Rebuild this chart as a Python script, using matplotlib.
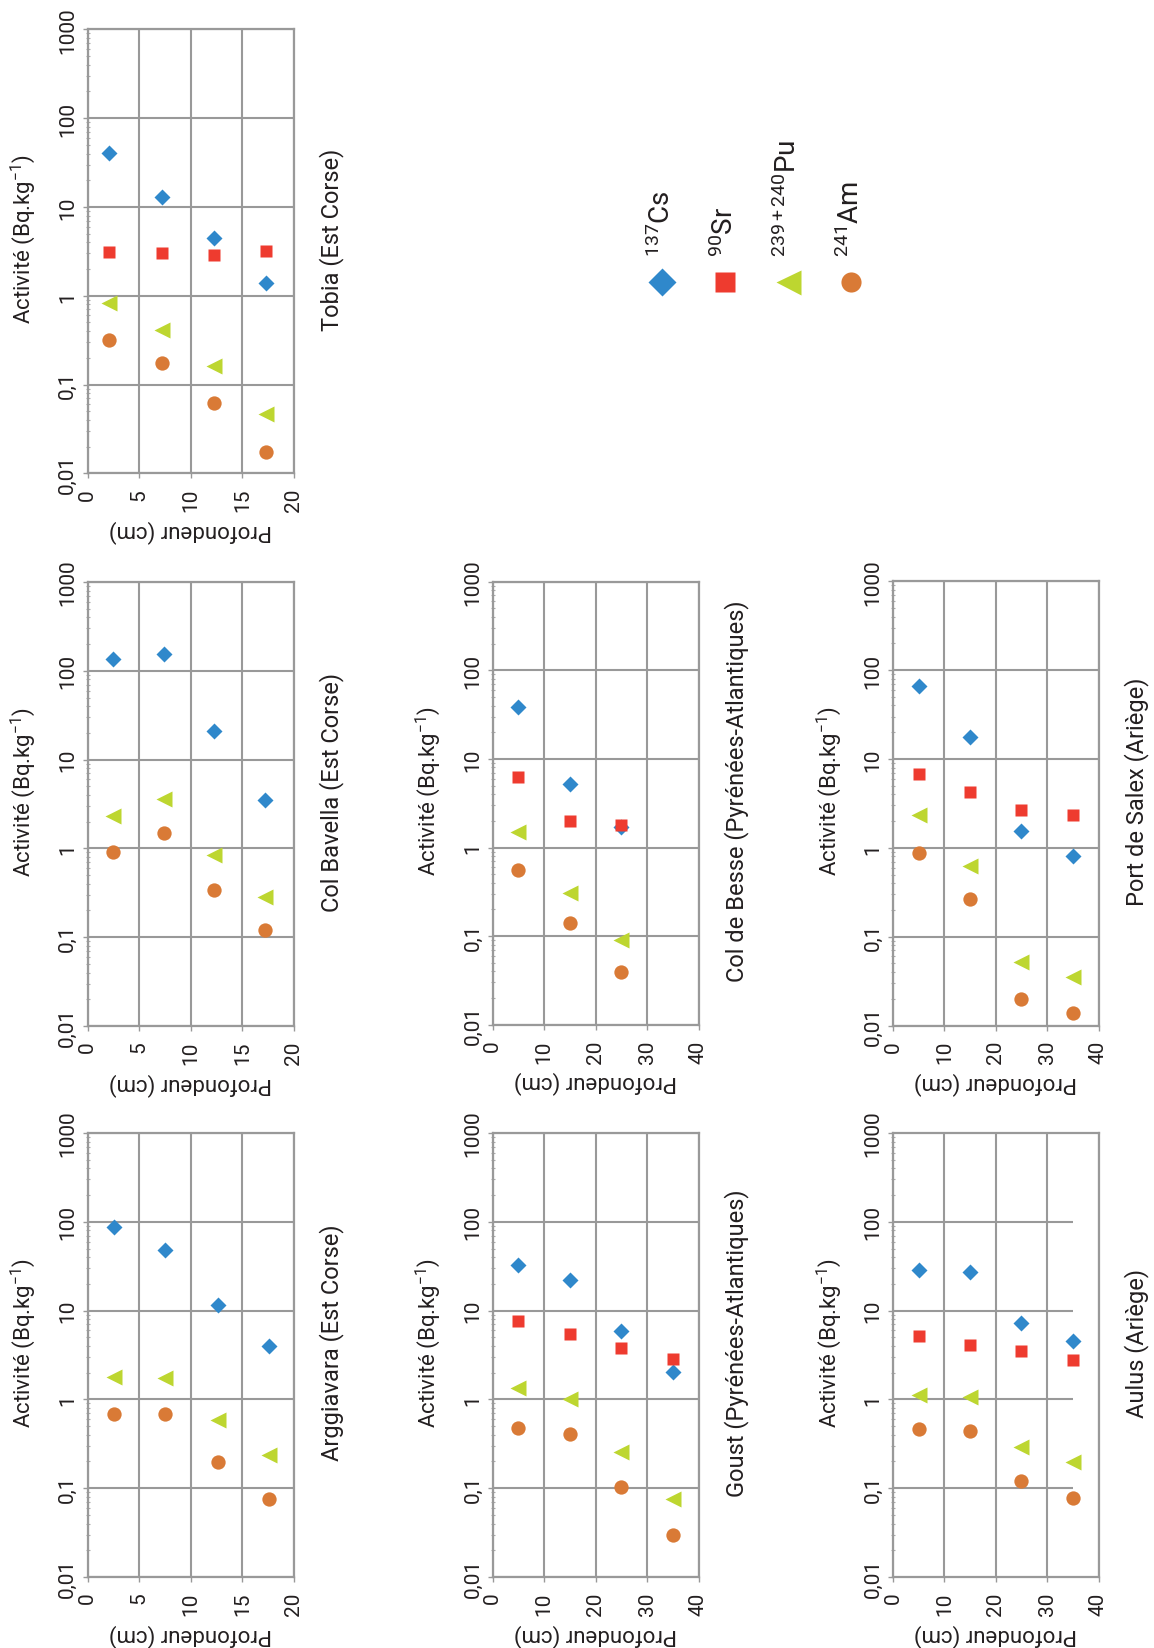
import numpy as np
import matplotlib
matplotlib.use("Agg")
import matplotlib.pyplot as plt
from matplotlib.ticker import FixedLocator, NullFormatter

plt.rcParams['font.family'] = ['Roboto', 'DejaVu Sans']
plt.rcParams['mathtext.fontset'] = 'custom'
plt.rcParams['mathtext.rm'] = 'Roboto'
plt.rcParams['mathtext.it'] = 'Roboto'
plt.rcParams['mathtext.default'] = 'regular'

# ---- data (depth in cm, activity in Bq/kg) ----
tobia_depth = [2.1, 7.2, 12.3, 17.3]
tobia_cs = [41, 13, 4.5, 1.4]
tobia_sr = [3.1, 3.05, 2.85, 3.2]
tobia_pu = [0.82, 0.41, 0.163, 0.046]
tobia_am = [0.32, 0.175, 0.062, 0.0176]

bavella_depth = [2.5, 7.4, 12.3, 17.2]
bavella_cs = [136, 156, 20.8, 3.54]
bavella_pu = [2.33, 3.64, 0.84, 0.286]
bavella_am = [0.92, 1.48, 0.34, 0.12]

arggiavara_depth = [2.6, 7.5, 12.6, 17.6]
arggiavara_cs = [88.5, 47.8, 11.6, 4.04]
arggiavara_pu = [1.8, 1.72, 0.58, 0.235]
arggiavara_am = [0.69, 0.69, 0.195, 0.075]

besse_depth = [5, 15, 25]
besse_cs = [38.8, 5.16, 1.69]
besse_sr = [6.24, 1.99, 1.81]
besse_pu = [1.51, 0.309, 0.090]
besse_am = [0.561, 0.1405, 0.0396]

goust_depth = [5, 15, 25, 35]
goust_cs = [32.3, 22.1, 5.92, 2.05]
goust_sr = [7.7, 5.5, 3.83, 2.86]
goust_pu = [1.335, 1.02, 0.258, 0.076]
goust_am = [0.474, 0.41, 0.104, 0.0297]

salex_depth = [5, 15, 25, 35]
salex_cs = [66.7, 17.6, 1.54, 0.805]
salex_sr = [6.78, 4.26, 2.68, 2.35]
salex_pu = [2.35, 0.62, 0.0515, 0.035]
salex_am = [0.873, 0.265, 0.0197, 0.0138]

aulus_depth = [5, 15, 25, 35]
aulus_cs = [28.7, 27.4, 7.22, 4.5]
aulus_sr = [5.16, 4.11, 3.53, 2.78]
aulus_pu = [1.11, 1.06, 0.29, 0.198]
aulus_am = [0.47, 0.44, 0.119, 0.0785]

ytick_vals = [0.01, 0.1, 1, 10, 100, 1000]
ytick_labels = ['0,01', '0,1', '1', '10', '100', '1000']
isotopes = [r'$^{137}$Cs', r'$^{90}$Sr', r'$^{239+240}$Pu', r'$^{241}$Am']

# marker styles: (marker, color, size)
styles = [('D', '#2f88cb', 8.0),
          ('s', '#ee3b2f', 9.2),
          ('<', '#bdd630', 11.5),
          ('o', '#d97a36', 10.3)]

GRID = '#999999'
TXT = '#231f20'

W, H = 1154, 1649
fig = plt.figure(figsize=(W / 100, H / 100), dpi=100)


def panel(left, top, right, bottom, depth, series, xmax, title, grid_stop=None):
    ax = fig.add_axes([left / W, 1 - bottom / H, (right - left) / W, (bottom - top) / H])
    w, h = right - left, bottom - top
    for vals, (m, c, s) in zip(series, styles):
        if vals is None:
            continue
        ax.plot(depth, vals, linestyle='none', marker=m, color=c, ms=s, mec='none', zorder=3)
    ax.set_yscale('log')
    ax.set_ylim(0.01, 1000)
    ax.set_xlim(0, xmax)
    step = 5 if xmax == 20 else 10
    ax.set_xticks(np.arange(0, xmax + 1, step))
    ax.set_yticks(ytick_vals, ytick_labels)
    ax.yaxis.set_minor_locator(FixedLocator(
        [k * 10.0 ** e for e in range(-2, 3) for k in range(2, 10)]))
    ax.yaxis.set_minor_formatter(NullFormatter())
    if grid_stop is None:
        ax.grid(True, which='major', color=GRID, linewidth=1.5, zorder=0)
    else:
        # horizontal grid lines stop short of the right frame in this panel
        ax.grid(True, which='major', axis='x', color=GRID, linewidth=1.5, zorder=0)
        ax.hlines(ytick_vals[1:-1], 0, grid_stop, color=GRID, linewidth=1.5, zorder=0)
    ax.set_axisbelow(True)
    for sp in ax.spines.values():
        sp.set_color(GRID)
        sp.set_linewidth(1.6)
    ax.tick_params(which='major', length=3.5, width=1.0, color=GRID, labelsize=15,
                   labelcolor=TXT, pad=4)
    ax.tick_params(axis='y', which='minor', length=3, width=0.8, color='#aaaaaa',
                   direction='inout')
    ax.tick_params(axis='x', pad=7)
    plt.setp(ax.get_yticklabels(), rotation=90, va='center')
    plt.setp(ax.get_xticklabels(), rotation=90, ha='center')
    ax.set_xlabel('Profondeur (cm)', rotation=180, fontsize=16, color=TXT,
                  va='center', ha='center')
    ax.xaxis.set_label_coords(0.5, -57 / h)
    ax.set_ylabel(r'Activité (Bq.kg$^{-1}$)', rotation=90, fontsize=16, color=TXT,
                  va='center', ha='center')
    ax.yaxis.set_label_coords(-64 / w, 0.5 + 13 / h)
    ax.text(1 + 38 / w, 0.5 + 13 / h, title, transform=ax.transAxes, rotation=90,
            ha='center', va='center', fontsize=17, color=TXT)
    return ax


panel(87.5, 30.4, 294, 474.3, tobia_depth,
      [tobia_cs, tobia_sr, tobia_pu, tobia_am], 20, 'Tobia (Est Corse)')
panel(87.5, 583, 294, 1027, bavella_depth,
      [bavella_cs, None, bavella_pu, bavella_am], 20, 'Col Bavella (Est Corse)')
panel(87.5, 1134, 294, 1578, arggiavara_depth,
      [arggiavara_cs, None, arggiavara_pu, arggiavara_am], 20, 'Arggiavara (Est Corse)')
panel(492.7, 582.7, 698.5, 1025.7, besse_depth,
      [besse_cs, besse_sr, besse_pu, besse_am], 40, 'Col de Besse (Pyrénées-Atlantiques)')
panel(492.7, 1134, 698.5, 1578, goust_depth,
      [goust_cs, goust_sr, goust_pu, goust_am], 40, 'Goust (Pyrénées-Atlantiques)')
panel(893, 582.3, 1098.5, 1026.5, salex_depth,
      [salex_cs, salex_sr, salex_pu, salex_am], 40, 'Port de Salex (Ariège)')
panel(893, 1134, 1098.5, 1578, aulus_depth,
      [aulus_cs, aulus_sr, aulus_pu, aulus_am], 40, 'Aulus (Ariège)', grid_stop=35)

# legend (markers below, rotated labels above)
lg = fig.add_axes([630.5 / W, 1 - 300 / H, 252 / W, 120 / H])
lg.set_xlim(-0.5, 3.5)
lg.set_ylim(0, 1)
lg.axis('off')
leg_sizes = [14.3, 15, 18, 14.5]
for i, (lab, (m, c, s)) in enumerate(zip(isotopes, styles)):
    lg.plot([i], [17 / 120], linestyle='none', marker=m, color=c, ms=leg_sizes[i], mec='none')
    lg.text(i, 43 / 120, lab, rotation=90, ha='center', va='bottom', fontsize=20, color=TXT)

fig.savefig('out.png', dpi=100)
